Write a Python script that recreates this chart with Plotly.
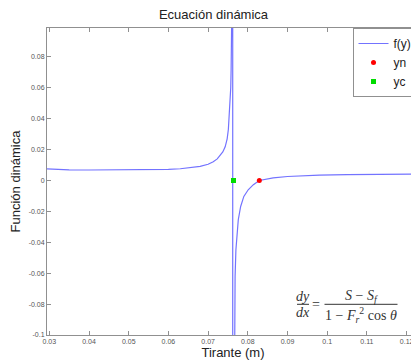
import plotly.graph_objects as go

# ---- data ----
tirante = [0.02942, 0.032, 0.035, 0.040, 0.045, 0.050, 0.055, 0.058, 0.060, 0.063,
           0.066, 0.068, 0.070, 0.0713, 0.0723, 0.0730, 0.0737, 0.0743, 0.0748, 0.0751,
           0.0753, 0.0755, 0.0757, 0.0758, 0.0759, 0.0760, 0.0761, 0.07618,
           0.07622, 0.07665, 0.0767, 0.0768, 0.0770, 0.0772, 0.0776, 0.0782, 0.0790,
           0.0801, 0.0814, 0.0829, 0.0845, 0.0864, 0.0900, 0.0931, 0.0980, 0.1050,
           0.1120, 0.12312]
funcion = [0.0075, 0.0071, 0.0069, 0.0068, 0.0068, 0.0068, 0.0069, 0.0070, 0.0072, 0.0076,
           0.0083, 0.0091, 0.0105, 0.0121, 0.0140, 0.0160, 0.0185, 0.0218, 0.0270, 0.0330,
           0.0400, 0.0480, 0.0600, 0.0720, 0.0850, 0.1000, 0.1400, 2.0,
           -2.0, -0.13, -0.095, -0.062, -0.045, -0.036, -0.0254, -0.0168, -0.0103,
           -0.0060, -0.0027, 0.0, 0.0010, 0.0017, 0.0026, 0.0031, 0.0035, 0.0038,
           0.0040, 0.0041]
yn_x = [0.0829]
yn_y = [0.0]
yc_x = [0.0764]
yc_y = [0.0]

x_ticks = [0.03, 0.04, 0.05, 0.06, 0.07, 0.08, 0.09, 0.10, 0.11, 0.12]
x_tick_labels = ["0.03", "0.04", "0.05", "0.06", "0.07", "0.08", "0.09", "0.1", "0.11", "0.12"]
y_ticks = [-0.1, -0.08, -0.06, -0.04, -0.02, 0, 0.02, 0.04, 0.06, 0.08]
y_tick_labels = ["-0.1", "-0.08", "-0.06", "-0.04", "-0.02", "0", "0.02", "0.04", "0.06", "0.08"]

# page body has an 8px margin, so the figure is drawn 8px smaller and offset
OFF = 8
W, H = 419 - OFF, 362 - OFF
ML, MR, MT, MB = 47 - OFF, 0, 28 - OFF, 27
PW, PH = W - ML - MR, H - MT - MB


def px(x):  # reference pixel x -> paper
    return (x - OFF - ML) / PW


def py(y):  # reference pixel y -> paper
    return (H - MB - (y - OFF)) / PH


fig = go.Figure()
fig.add_trace(go.Scatter(x=tirante, y=funcion, mode="lines", name="f(y)",
                         line=dict(color="rgb(115,115,255)", width=1.2)))
fig.add_trace(go.Scatter(x=yn_x, y=yn_y, mode="markers", name="yn",
                         marker=dict(color="red", size=5, symbol="circle")))
fig.add_trace(go.Scatter(x=yc_x, y=yc_y, mode="markers", name="yc",
                         marker=dict(color="rgb(0,220,0)", size=5, symbol="square")))

axis_common = dict(showgrid=False, zeroline=False, showline=True, linecolor="#909090",
                   linewidth=1, mirror="ticks", ticks="inside", ticklen=4,
                   tickcolor="#909090", tickfont=dict(size=7, color="#555555",
                                                     family="Liberation Sans"))

fig.update_xaxes(range=[0.02942, 0.12312], tickvals=x_ticks, ticktext=x_tick_labels,
                 title=dict(text="Tirante (m)", font=dict(size=13, color="#222222",
                                                          family="Liberation Sans"),
                            standoff=2),
                 **axis_common)
fig.update_yaxes(range=[-0.1, 0.0987], tickvals=y_ticks, ticktext=y_tick_labels,
                 title=dict(text="Función dinámica", font=dict(size=13, color="#222222",
                                                               family="Liberation Sans"),
                            standoff=6),
                 **axis_common)

# equation dy/dx = (S - S_f) / (1 - F_r^2 cos θ)
eqfont = dict(family="Liberation Serif", size=14, color="#333333")
ann = []
ann.append(dict(x=px(303), y=py(296.5), text="<i>dy</i>"))
ann.append(dict(x=px(303), y=py(312), text="<i>dx</i>"))
ann.append(dict(x=px(315.5), y=py(304), text="="))
ann.append(dict(x=px(361), y=py(296), text="<i>S</i> − <i>S</i><sub><i>f</i></sub>"))
ann.append(dict(x=px(361), y=py(315), text="1 − <i>F</i><sub><i>r</i></sub><sup>2</sup> cos <i>θ</i>"))
for a in ann:
    a.update(xref="paper", yref="paper", showarrow=False, font=eqfont,
             xanchor="center", yanchor="middle")

shapes = [
    dict(type="line", xref="paper", yref="paper", x0=px(297), x1=px(309),
         y0=py(304.3), y1=py(304.3), line=dict(color="#333333", width=1)),
    dict(type="line", xref="paper", yref="paper", x0=px(324.5), x1=px(397.5),
         y0=py(304.3), y1=py(304.3), line=dict(color="#333333", width=1)),
]

fig.update_layout(
    width=W, height=H,
    margin=dict(l=ML, r=MR, t=MT, b=MB),
    paper_bgcolor="white", plot_bgcolor="white",
    title=dict(text="Ecuación dinámica", x=px(233), xanchor="center",
               y=1 - (14 - OFF) / H, yanchor="middle",
               font=dict(size=13, color="#222222", family="Liberation Sans")),
    legend=dict(x=px(417.5), y=1, xanchor="right", yanchor="top", bgcolor="white",
                bordercolor="#909090", borderwidth=1, itemwidth=30,
                font=dict(size=12, color="#222222", family="Liberation Sans"),
                tracegroupgap=0),
    annotations=ann, shapes=shapes,
)

fig.write_html("out.html")
